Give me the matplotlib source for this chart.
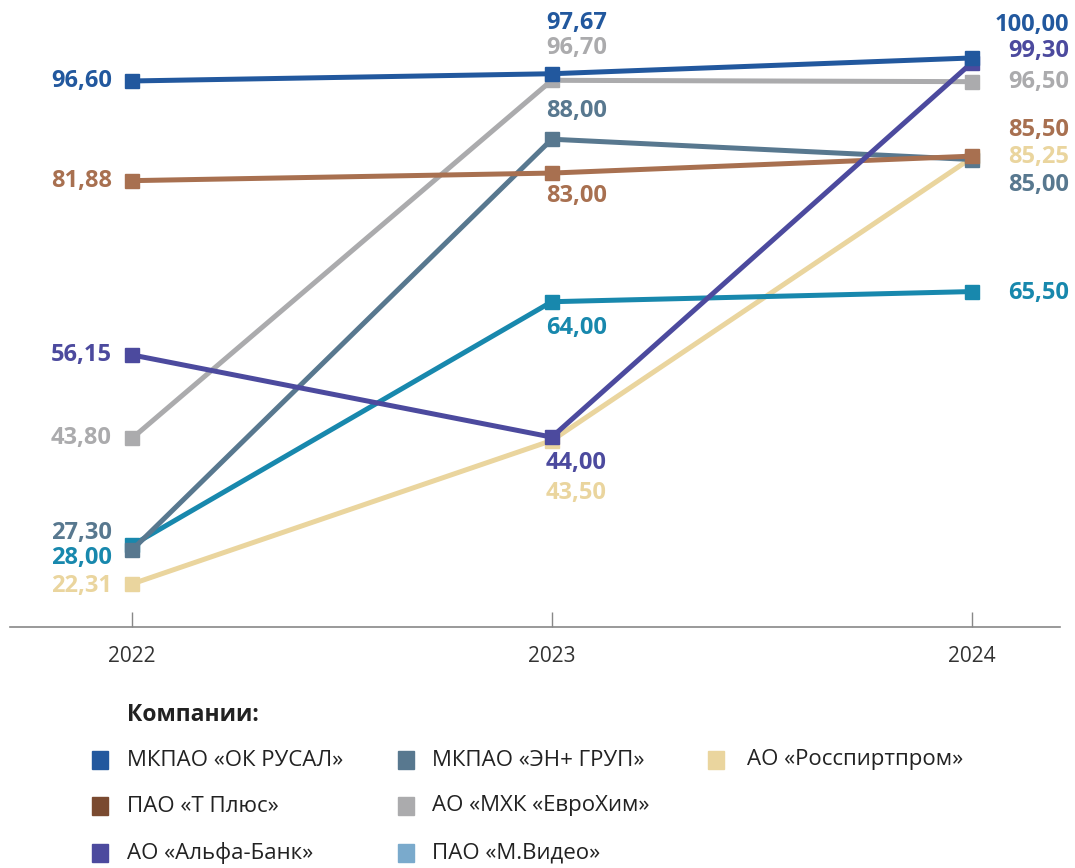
import matplotlib.pyplot as plt
from matplotlib.patches import Rectangle

plt.rcParams['font.family'] = ['Open Sans', 'DejaVu Sans']
plt.rcParams['font.stretch'] = 'normal'

# ------------------------------------------
# Data
# ------------------------------------------
years = ['2022', '2023', '2024']

rusal = [96.60, 97.67, 100.00]
en_group = [27.30, 88.00, 85.00]
rosspirt = [22.31, 43.50, 85.25]
t_plus = [81.88, 83.00, 85.50]
eurochem = [43.80, 96.70, 96.50]
alfa = [56.15, 44.00, 99.30]
mvideo = [28.00, 64.00, 65.50]

legend_names = ['МКПАО «ОК РУСАЛ»', 'МКПАО «ЭН+ ГРУП»', 'АО «Росспиртпром»',
                'ПАО «Т Плюс»', 'АО «МХК «ЕвроХим»',
                'АО «Альфа-Банк»', 'ПАО «М.Видео»']

# ------------------------------------------
# Styles
# ------------------------------------------
c_rusal = '#22589e'
c_en = '#58788f'
c_ross = '#ead59e'
c_tplus = '#a87050'
c_euro = '#ababad'
c_alfa = '#4c4a9e'
c_mv = '#1888ad'

legend_colors = [c_rusal, c_en, c_ross, '#7a4a30', c_euro, c_alfa, '#7aaacc']

# series, color, label offsets (pixels) for each year
series = [
    (rosspirt, c_ross, [(-20, -2), (-6, -52), (97, 1)]),
    (mvideo, c_mv, [(-20, -13), (-6, -26), (97, -1)]),
    (eurochem, c_euro, [(-20, 0), (-6, 32), (97, 0)]),
    (en_group, c_en, [(-20, 17), (-6, 28), (97, -25)]),
    (t_plus, c_tplus, [(-20, 0), (-6, -23), (97, 26)]),
    (alfa, c_alfa, [(-20, 0), (-6, -26), (97, 12)]),
    (rusal, c_rusal, [(-20, 0), (-6, 51), (97, 33)]),
]

fig = plt.figure(figsize=(10.75, 8.68), dpi=100)
ax = fig.add_axes([10 / 1075, 1 - 627 / 868, 1050 / 1075, 627 / 868])

x = [0, 1, 2]
for vals, col, offs in series:
    ax.plot(x, vals, color=col, lw=3.6, marker='s', ms=10,
            solid_joinstyle='miter', zorder=3)
    for i, v in enumerate(vals):
        dx, dy = offs[i]
        ha = 'right' if i != 1 else 'left'
        ax.annotate(f'{v:.2f}'.replace('.', ','), (x[i], v),
                    xytext=(dx, dy), textcoords='offset pixels',
                    ha=ha, va='center', fontsize=17, fontweight='bold',
                    color=col, zorder=5)

ax.set_xlim(-0.29, 2.21)
ax.set_ylim(15.96, 108.56)
ax.set_xticks(x)
ax.set_xticklabels(years, fontsize=15, color='#333333')
ax.tick_params(axis='x', direction='in', length=11, width=1,
               color='#888888', pad=14)
ax.set_yticks([])
for side in ['top', 'left', 'right']:
    ax.spines[side].set_visible(False)
ax.spines['bottom'].set_color('#888888')
ax.spines['bottom'].set_linewidth(1.2)
ax.patch.set_alpha(0)

# ------------------------------------------
# Legend (manual layout)
# ------------------------------------------
W, H = 1075, 868
fig.text(127 / W, 1 - 715 / H, 'Компании:', fontsize=16.5, fontweight='bold',
         color='#222222', va='center', ha='left')

square_x = [100, 406, 716]
text_x = [127, 432, 747]
rows_y = [760, 806, 853]
slots = [(0, 0), (0, 1), (0, 2), (1, 0), (1, 1), (2, 0), (2, 1)]
for name, col, (r, c) in zip(legend_names, legend_colors, slots):
    sx, sy = square_x[c], rows_y[r]
    fig.patches.append(Rectangle(((sx - 8) / W, 1 - (sy + 9) / H), 16 / W, 18 / H,
                                 transform=fig.transFigure, color=col))
    fig.text(text_x[c] / W, 1 - sy / H, name, fontsize=16, color='#222222',
             va='center', ha='left')

plt.savefig('out.png', dpi=100)
